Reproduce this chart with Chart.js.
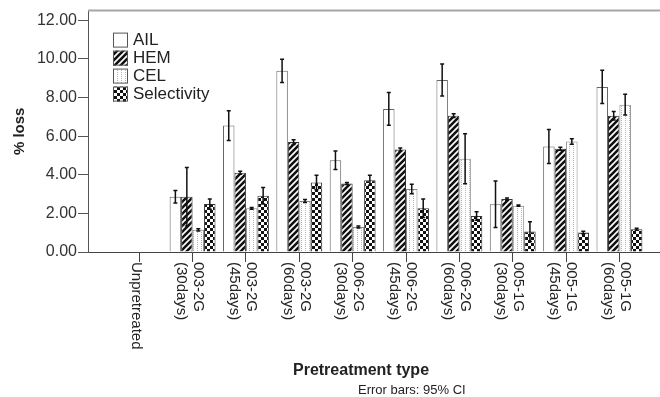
<!DOCTYPE html>
<html>
<head>
<meta charset="utf-8">
<script src="https://cdn.jsdelivr.net/npm/chart.js@4/dist/chart.umd.min.js"></script>
<style>
  html, body { margin: 0; padding: 0; background: #fff; }
  canvas { display: block; }
</style>
</head>
<body>
<canvas id="c" width="660" height="397"></canvas>
<script>
// Pretreatment groups (each label split into its text lines)
const categories = [
  ['Unpretreated'],
  ['003-2G', '(30days)'], ['003-2G', '(45days)'], ['003-2G', '(60days)'],
  ['006-2G', '(30days)'], ['006-2G', '(45days)'], ['006-2G', '(60days)'],
  ['005-1G', '(30days)'], ['005-1G', '(45days)'], ['005-1G', '(60days)']
];

// Mean % loss per component
const ailLoss = [0, 2.86, 6.55, 9.38, 4.75, 7.41, 8.91, 2.47, 5.46, 8.55];
const hemLoss = [0, 2.86, 4.10, 5.69, 3.55, 5.31, 7.06, 2.74, 5.35, 7.06];
const celLoss = [0, 1.15, 2.26, 2.64, 1.29, 3.26, 4.83, 2.40, 5.72, 7.63];
const selectivity = [0, 2.48, 2.91, 3.60, 3.72, 2.26, 1.87, 1.06, 1.01, 1.18];

// 95% confidence interval half-widths
const ailCI = [0, 0.32, 0.77, 0.60, 0.48, 0.85, 0.83, 1.20, 0.88, 0.86];
const hemCI = [0, 1.51, 0.08, 0.12, 0.05, 0.08, 0.10, 0.06, 0.08, 0.22];
const celCI = [0, 0.06, 0.05, 0.08, 0.05, 0.25, 1.29, 0.03, 0.14, 0.54];
const selCI = [0, 0.26, 0.43, 0.38, 0.26, 0.48, 0.22, 0.51, 0.06, 0.05];

const yTicks = [0, 2, 4, 6, 8, 10, 12];

const FONT = "'Liberation Sans', Arial, sans-serif";
Chart.defaults.font.family = FONT;

// ---- fill patterns ----
function tile(w, h, paint) {
  const c = document.createElement('canvas');
  c.width = w; c.height = h;
  const g = c.getContext('2d');
  g.fillStyle = '#fff';
  g.fillRect(0, 0, w, h);
  paint(g, w, h);
  return g.createPattern(c, 'repeat');
}
const hatch = tile(6, 6, (g, s) => {
  g.strokeStyle = '#111';
  g.lineWidth = 2.6;
  g.beginPath();
  g.moveTo(-1, 1); g.lineTo(1, -1);
  g.moveTo(0, s); g.lineTo(s, 0);
  g.moveTo(s - 1, s + 1); g.lineTo(s + 1, s - 1);
  g.stroke();
});
const dotted = tile(4, 2, (g) => {
  g.fillStyle = '#b4b4b4';
  g.fillRect(1, 0, 1, 1);
});
const checker = tile(6, 6, (g) => {
  g.fillStyle = '#111';
  g.fillRect(0, 0, 3, 3);
  g.fillRect(3, 3, 3, 3);
});

const toPoints = arr => arr.map((v, i) => ({ x: i, y: v }));

const series = [
  { label: 'AIL', data: ailLoss, ci: ailCI, fill: '#fff', border: '#666' },
  { label: 'HEM', data: hemLoss, ci: hemCI, fill: hatch, border: '#333' },
  { label: 'CEL', data: celLoss, ci: celCI, fill: dotted, border: '#888' },
  { label: 'Selectivity', data: selectivity, ci: selCI, fill: checker, border: '#333' }
];

// ---- error bars, frame, axis labels, legend ----
const decor = {
  id: 'decor',
  afterDatasetsDraw(chart) {
    const { ctx } = chart;
    const y = chart.scales.y;
    ctx.save();
    ctx.strokeStyle = '#111';
    ctx.lineWidth = 1.5;
    chart.data.datasets.forEach((ds, di) => {
      const meta = chart.getDatasetMeta(di);
      meta.data.forEach((bar, i) => {
        const v = ds.data[i].y, e = ds.ci[i];
        if (!e) return;
        const top = y.getPixelForValue(v + e);
        const bot = y.getPixelForValue(v - e);
        ctx.beginPath();
        ctx.moveTo(bar.x, top); ctx.lineTo(bar.x, bot);
        ctx.moveTo(bar.x - 2, top); ctx.lineTo(bar.x + 2, top);
        ctx.moveTo(bar.x - 2, bot); ctx.lineTo(bar.x + 2, bot);
        ctx.stroke();
      });
    });
    ctx.restore();
  },
  afterDraw(chart) {
    const { ctx, chartArea: a } = chart;
    const x = chart.scales.x;
    ctx.save();

    // top edge of the plot frame
    ctx.strokeStyle = '#a6a6a6';
    ctx.lineWidth = 2;
    ctx.beginPath();
    ctx.moveTo(a.left, a.top);
    ctx.lineTo(a.right, a.top);
    ctx.stroke();

    // category labels, rotated to read downward
    ctx.fillStyle = '#222';
    ctx.font = '15px ' + FONT;
    ctx.textAlign = 'left';
    ctx.textBaseline = 'middle';
    const lh = 17;
    categories.forEach((lines, i) => {
      const px = x.getPixelForValue(i) - 3;
      ctx.save();
      ctx.translate(px, a.bottom + 10);
      ctx.rotate(Math.PI / 2);
      lines.forEach((t, j) => {
        ctx.fillText(t, 0, -((lines.length - 1) / 2) * lh + j * lh);
      });
      ctx.restore();
    });

    // axis title and footnote
    ctx.font = 'bold 16px ' + FONT;
    ctx.textAlign = 'center';
    ctx.fillText('Pretreatment type', 361, 371);
    ctx.font = '13px ' + FONT;
    ctx.textAlign = 'left';
    ctx.fillText('Error bars: 95% CI', 358, 390);

    // legend
    ctx.font = '17px ' + FONT;
    chart.data.datasets.forEach((ds, i) => {
      const cy = a.top + 29 + i * 18;
      ctx.fillStyle = ds.backgroundColor;
      ctx.fillRect(113, cy - 7, 15, 15);
      ctx.strokeStyle = '#555';
      ctx.lineWidth = 1;
      ctx.strokeRect(113.5, cy - 6.5, 14, 14);
      ctx.fillStyle = '#222';
      ctx.fillText(ds.label, 133, cy + 1);
    });
    ctx.restore();
  }
};

new Chart(document.getElementById('c'), {
  type: 'bar',
  data: {
    datasets: series.map(s => ({
      label: s.label,
      data: toPoints(s.data),
      ci: s.ci,
      backgroundColor: s.fill,
      borderColor: s.border,
      borderWidth: 1,
      categoryPercentage: 0.86,
      barPercentage: 1.0
    }))
  },
  options: {
    responsive: false,
    animation: false,
    devicePixelRatio: 1,
    layout: { padding: { top: 9, left: 0, right: 0, bottom: 0 } },
    plugins: { legend: { display: false }, tooltip: { enabled: false } },
    scales: {
      x: {
        type: 'linear',
        offset: false,
        min: -0.96,
        max: 9.76,
        afterBuildTicks: s => { s.ticks = categories.map((_, i) => ({ value: i })); },
        afterFit: s => { s.height = 145; },
        ticks: { display: false },
        grid: { offset: false, drawOnChartArea: false, drawTicks: true, tickLength: 10, color: '#444' },
        border: { color: '#444', width: 1 }
      },
      y: {
        min: 0,
        max: 12.5,
        afterBuildTicks: s => { s.ticks = yTicks.map(v => ({ value: v })); },
        afterFit: s => { s.width = 88; },
        ticks: {
          callback: v => Number(v).toFixed(2),
          font: { size: 16 },
          color: '#333',
          padding: 1
        },
        grid: { drawOnChartArea: false, drawTicks: true, tickLength: 10, color: '#555' },
        border: { color: '#555', width: 1 },
        title: {
          display: true,
          text: '% loss',
          font: { size: 15, weight: 'bold' },
          color: '#222',
          padding: { top: 11, bottom: 0 }
        }
      }
    }
  },
  plugins: [decor]
});
</script>
</body>
</html>
